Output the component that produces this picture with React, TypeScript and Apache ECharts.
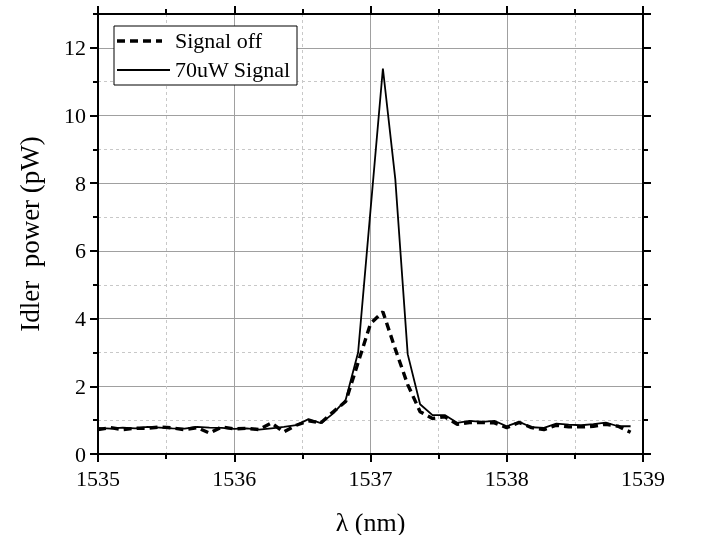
import React, { useEffect, useRef } from "react";
import * as echarts from "echarts";

const wavelengths = [
  1535.0, 1535.091, 1535.182, 1535.273, 1535.364, 1535.455, 1535.545, 1535.636,
  1535.727, 1535.818, 1535.909, 1536.0, 1536.091, 1536.182, 1536.273, 1536.364,
  1536.455, 1536.545, 1536.636, 1536.727, 1536.818, 1536.909, 1537.0, 1537.091,
  1537.182, 1537.273, 1537.364, 1537.455, 1537.545, 1537.636, 1537.727, 1537.818,
  1537.909, 1538.0, 1538.091, 1538.182, 1538.273, 1538.364, 1538.455, 1538.545,
  1538.636, 1538.727, 1538.818, 1538.909,
];

const signalOff = [
  0.72, 0.78, 0.72, 0.76, 0.76, 0.8, 0.77, 0.72, 0.78, 0.62, 0.8, 0.74, 0.76, 0.72,
  0.92, 0.65, 0.85, 0.98, 0.92, 1.25, 1.55, 2.7, 3.85, 4.2, 3.1, 2.05, 1.25, 1.05,
  1.1, 0.88, 0.93, 0.93, 0.92, 0.78, 0.93, 0.78, 0.72, 0.85, 0.8, 0.8, 0.82, 0.88,
  0.82, 0.64,
];

const signal70uW = [
  0.77, 0.75, 0.78, 0.76, 0.8, 0.78, 0.76, 0.75, 0.8, 0.78, 0.77, 0.74, 0.76, 0.72,
  0.76, 0.8, 0.85, 1.03, 0.91, 1.2, 1.6, 3.0, 7.2, 11.39, 8.12, 2.95, 1.47, 1.15,
  1.15, 0.92, 0.98, 0.95, 0.98, 0.82, 0.95, 0.79, 0.77, 0.9, 0.87, 0.85, 0.88, 0.93,
  0.82, 0.82,
];

const seriesNames = ["Signal off", "70uW Signal"];
const xAxisTitle = "λ (nm)";
const yAxisTitle = "Idler  power (pW)";

const FONT = "Times New Roman";

export default function App() {
  const ref = useRef<HTMLDivElement>(null);

  useEffect(() => {
    if (!ref.current) return;
    const chart = echarts.init(ref.current, undefined, { renderer: "svg" });

    const majorGrid = { show: true, lineStyle: { color: "#a0a0a0", width: 1, type: "solid" as const } };
    const minorGrid = { show: true, lineStyle: { color: "#c8c8c8", width: 1, type: [3, 3] } };
    const axisLine = { show: true, onZero: false, lineStyle: { color: "#000", width: 2 } };
    const label = { fontFamily: FONT, fontSize: 22, color: "#000" };

    const xBase = {
      type: "value" as const,
      min: 1535,
      max: 1539,
      interval: 1,
      axisLine,
      axisTick: { show: true, inside: false, length: 8, lineStyle: { color: "#000", width: 2 } },
      minorTick: { show: true, splitNumber: 2, length: 5, lineStyle: { color: "#000", width: 2 } },
    };

    const yMajor = {
      type: "value" as const,
      min: 0,
      max: 13,
      interval: 2,
      axisLine,
      axisTick: { show: true, inside: false, length: 8, lineStyle: { color: "#000", width: 2 } },
    };
    const yMinor = {
      type: "value" as const,
      min: 0,
      max: 13,
      interval: 1,
      axisLine: { show: false },
      axisLabel: { show: false },
      axisTick: { show: true, inside: false, length: 5, lineStyle: { color: "#000", width: 2 } },
    };

    const data0 = wavelengths.map((x, i) => [x, signalOff[i]]);
    const data1 = wavelengths.map((x, i) => [x, signal70uW[i]]);

    chart.setOption({
      animation: false,
      textStyle: { fontFamily: FONT },
      grid: { left: 98, right: 59, top: 14, bottom: 81, containLabel: false, outerBoundsMode: "none" },
      xAxis: [
        {
          ...xBase,
          position: "bottom",
          splitLine: majorGrid,
          minorSplitLine: minorGrid,
          axisLabel: { ...label, margin: 13, formatter: (v: number) => String(Math.round(v)) },
          name: xAxisTitle,
          nameLocation: "middle",
          nameGap: 55,
          nameTextStyle: { fontFamily: FONT, fontSize: 26, color: "#000" },
        },
        {
          ...xBase,
          position: "top",
          splitLine: { show: false },
          minorSplitLine: { show: false },
          axisLabel: { show: false },
        },
      ],
      yAxis: [
        {
          ...yMajor,
          position: "left",
          splitLine: majorGrid,
          axisLabel: { ...label, margin: 12, showMaxLabel: false, formatter: (v: number) => (v % 2 === 0 ? String(v) : "") },
          name: yAxisTitle,
          nameLocation: "middle",
          nameGap: 55,
          nameTextStyle: { fontFamily: FONT, fontSize: 27, color: "#000" },
        },
        {
          ...yMinor,
          position: "left",
          splitLine: {
            show: true,
            lineStyle: { color: ["rgba(0,0,0,0)", "#c8c8c8"], width: 1, type: [3, 3] },
          },
        },
        {
          ...yMajor,
          position: "right",
          splitLine: { show: false },
          axisLabel: { show: false },
        },
        {
          ...yMinor,
          position: "right",
          splitLine: { show: false },
        },
      ],
      series: [
        {
          name: seriesNames[0],
          type: "line",
          xAxisIndex: 0,
          yAxisIndex: 0,
          data: data0,
          showSymbol: false,
          symbol: "none",
          z: 3,
          lineStyle: { color: "#000", width: 3.4, type: [8, 5], cap: "butt" },
        },
        {
          name: seriesNames[1],
          type: "line",
          xAxisIndex: 0,
          yAxisIndex: 0,
          data: data1,
          showSymbol: false,
          symbol: "none",
          z: 4,
          lineStyle: { color: "#000", width: 1.8, type: "solid" },
        },
      ],
      graphic: [
        {
          type: "rect",
          shape: { x: 114, y: 26, width: 183, height: 59 },
          style: { fill: "#fff", stroke: "#000", lineWidth: 1 },
          z: 10,
        },
        {
          type: "line",
          shape: { x1: 117, y1: 41, x2: 162, y2: 41 },
          style: { stroke: "#000", lineWidth: 3.4, lineDash: [8, 5] },
          z: 11,
        },
        {
          type: "line",
          shape: { x1: 117, y1: 70, x2: 170, y2: 70 },
          style: { stroke: "#000", lineWidth: 1.8 },
          z: 11,
        },
        {
          type: "text",
          x: 175,
          y: 29,
          style: { text: seriesNames[0], fontFamily: FONT, fontSize: 22, fill: "#000" },
          z: 11,
        },
        {
          type: "text",
          x: 175,
          y: 58,
          style: { text: seriesNames[1], fontFamily: FONT, fontSize: 22, fill: "#000" },
          z: 11,
        },
      ],
    });

    return () => chart.dispose();
  }, []);

  return <div ref={ref} style={{ position: "fixed", left: 0, top: 0, width: 702, height: 535 }} />;
}
